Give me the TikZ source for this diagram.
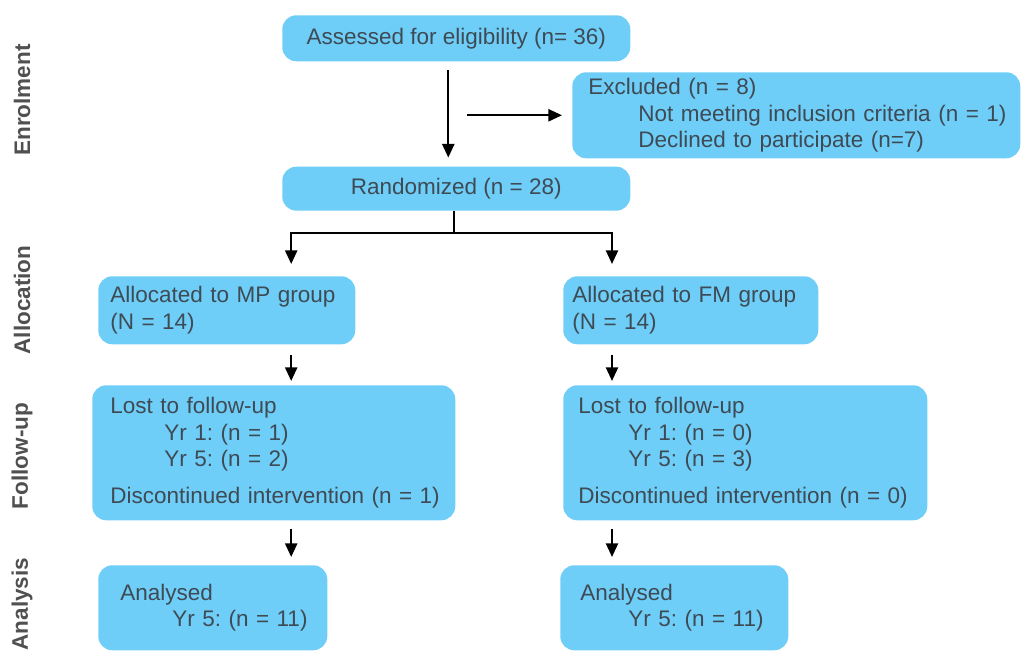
\documentclass[tikz,border=0pt]{standalone}
\usepackage{fontspec}
\setmainfont{Liberation Sans}
\usepackage{tikz}
\usetikzlibrary{arrows.meta,positioning,calc}
\definecolor{boxblue}{RGB}{110,206,248}
\definecolor{boxtext}{RGB}{62,74,84}
\definecolor{sidetext}{RGB}{80,80,80}
\frenchspacing

\begin{document}
\begin{tikzpicture}[
    box/.style={rectangle, rounded corners=0.35cm, fill=boxblue, text=boxtext,
        align=left, inner ysep=0pt, font=\fontsize{16}{19}\selectfont},
    phase/.style={rotate=90, font=\fontsize{16}{18}\selectfont\bfseries, text=sidetext},
    arr/.style={-{Triangle[length=0.34cm,width=0.3cm]}, line width=1.6pt},
    line/.style={line width=1.6pt}
]
\useasboundingbox (0,0) rectangle (25.55,-16.35);
% Phase labels
\node[phase] (enrol) at (0.55,-2.5) {Enrolment};
\node[phase] (alloc) at (0.55,-7.5) {Allocation};
\node[phase] (follow) at (0.55,-11.4) {Follow-up};
\node[phase] (anal) at (0.55,-15.1) {Analysis};
% Columns of the arrows
\coordinate (colL) at (7.28,0);
\coordinate (colR) at (15.3,0);
% Enrolment
\node[box, anchor=north west, minimum width=8.7cm, minimum height=1.15cm, align=center]
    (assess) at (7.05,-0.375) {Assessed for eligibility (n= 36)};
\node[box, anchor=north west, text width=10.6cm, inner xsep=0.3cm, minimum height=2.15cm]
    (excl) at (14.3,-1.8) {\hspace*{0.1cm}Excluded (n = 8)\\
    \hspace*{1.35cm}Not meeting inclusion criteria (n = 1)\\
    \hspace*{1.35cm}Declined to participate (n=7)};
\node[box, anchor=north west, minimum width=8.7cm, minimum height=1.1cm, align=center]
    (rand) at (7.05,-4.16) {Randomized (n = 28)};
% Allocation
\node[box, anchor=north west, text width=5.825cm, inner xsep=0.3cm, minimum height=1.7cm]
    (mp) at (2.45,-6.9) {Allocated to MP group\\(N = 14)};
\node[box, anchor=north west, text width=5.925cm, inner xsep=0.225cm, minimum height=1.7cm]
    (fm) at (14.075,-6.9) {Allocated to FM group\\(N = 14)};
% Follow-up
\node[box, anchor=north west, text width=8.475cm, inner xsep=0.3cm, minimum height=3.375cm]
    (lostmp) at (2.3,-9.625) {\hspace*{0.15cm}Lost to follow-up\\
    \hspace*{1.5cm}Yr 1: (n = 1)\\
    \hspace*{1.5cm}Yr 5: (n = 2)\\[0.25cm]
    \hspace*{0.15cm}Discontinued intervention (n = 1)};
\node[box, anchor=north west, text width=8.35cm, inner xsep=0.375cm, minimum height=3.375cm]
    (lostfm) at (14.075,-9.625) {Lost to follow-up\\
    \hspace*{1.25cm}Yr 1: (n = 0)\\
    \hspace*{1.25cm}Yr 5: (n = 3)\\[0.25cm]
    Discontinued intervention (n = 0)};
% Analysis
\node[box, anchor=north west, text width=4.825cm, inner xsep=0.45cm, minimum height=2.125cm]
    (anmp) at (2.45,-14.125) {\hspace*{0.1cm}Analysed\\
    \hspace*{1.4cm}Yr 5: (n = 11)};
\node[box, anchor=north west, text width=4.7cm, inner xsep=0.5cm, minimum height=2.125cm]
    (anfm) at (14.0,-14.125) {Analysed\\
    \hspace*{1.2cm}Yr 5: (n = 11)};
% Connectors
\coordinate (tap) at (11.675,0 |- excl.west);
\draw[arr, shorten <=0.22cm, shorten >=0.22cm]
    ([xshift=-0.2cm]assess.south) -- ([xshift=-0.2cm]assess.south |- rand.north);
\draw[arr, shorten >=0.25cm] (tap) -- (excl.west);
\coordinate (split) at ($(rand.south)+(-0.05,-0.55)$);
\draw[line] ([xshift=-0.05cm]rand.south) -- (split);
\draw[arr, shorten >=0.3cm] (split) -| (colL |- mp.north);
\draw[arr, shorten >=0.3cm] (split) -| (colR |- fm.north);
\draw[arr, shorten <=0.25cm, shorten >=0.1cm] (colL |- mp.south) -- (colL |- lostmp.north);
\draw[arr, shorten <=0.25cm, shorten >=0.1cm] (colR |- fm.south) -- (colR |- lostfm.north);
\draw[arr, shorten <=0.2cm, shorten >=0.2cm] (colL |- lostmp.south) -- (colL |- anmp.north);
\draw[arr, shorten <=0.2cm, shorten >=0.2cm] (colR |- lostfm.south) -- (colR |- anfm.north);
\end{tikzpicture}
\end{document}
